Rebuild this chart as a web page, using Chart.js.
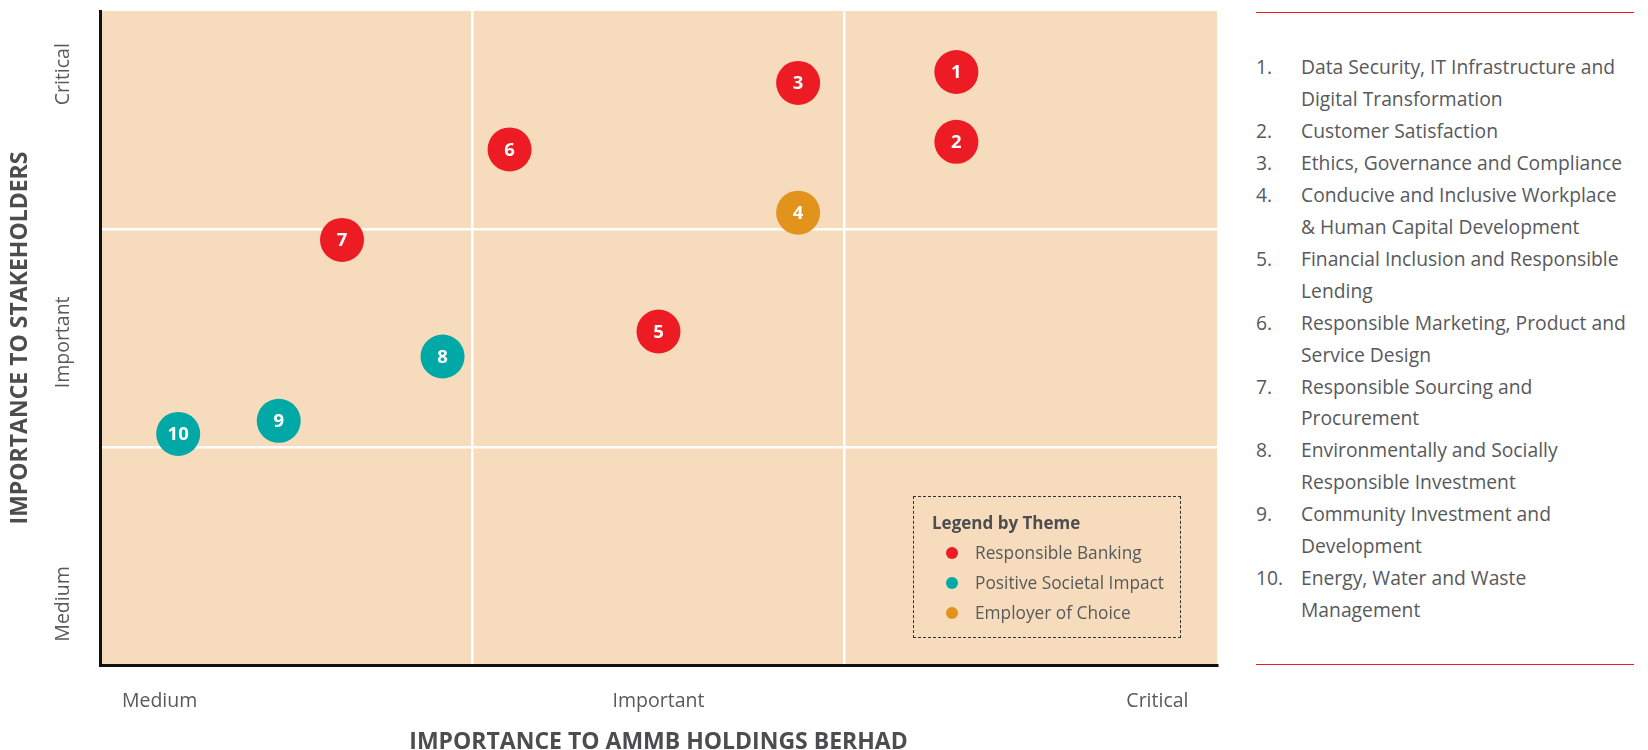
<!DOCTYPE html>
<html>
<head>
<meta charset="utf-8">
<script src="https://cdn.jsdelivr.net/npm/chart.js@4/dist/chart.umd.min.js"></script>
<style>
  body { margin: 0; background: #fff; font-family: 'Open Sans', sans-serif; }
  #wrap { position: relative; width: 1648px; height: 750px; overflow: hidden; }
  #chartBox { position: absolute; left: 0; top: 0; width: 1240px; height: 750px; }
  #legendBox {
    position: absolute; left: 913px; top: 496px; width: 268px; height: 142px;
    border: 1.5px dashed #333; box-sizing: border-box; padding: 11px 0 0 18px;
    color: #58595B; font-size: 17.3px;
  }
  #legendBox .ttl { font-weight: 700; font-size: 17px; line-height: 30px; color: #4D4D4F; }
  #legendBox .row { line-height: 30px; display: flex; align-items: center; }
  #legendBox .dot { width: 12px; height: 12px; border-radius: 50%; margin: 0 17px 0 14px; }
  #topics {
    position: absolute; left: 1256px; top: 12px; width: 378px; height: 653px;
    border-top: 1px solid #ED1C24; border-bottom: 1px solid #ED1C24; box-sizing: border-box;
    padding-top: 38px; color: #58595B; font-size: 19.3px; line-height: 31.95px;
  }
  #topics .item { display: flex; }
  #topics .num { width: 45px; flex: none; }
  #topics .txt { white-space: pre-line; }
</style>
</head>
<body>
<div id="wrap">
  <div id="chartBox"><canvas id="matrixChart"></canvas></div>
  <div id="legendBox"></div>
  <div id="topics"></div>
</div>
<script>
// material topics
const topicNos = [1, 2, 3, 4, 5, 6, 7, 8, 9, 10];
const topicNames = [
  'Data Security, IT Infrastructure and\nDigital Transformation',
  'Customer Satisfaction',
  'Ethics, Governance and Compliance',
  'Conducive and Inclusive Workplace\n& Human Capital Development',
  'Financial Inclusion and Responsible\nLending',
  'Responsible Marketing, Product and\nService Design',
  'Responsible Sourcing and\nProcurement',
  'Environmentally and Socially\nResponsible Investment',
  'Community Investment and\nDevelopment',
  'Energy, Water and Waste\nManagement'
];
// 0 = Responsible Banking, 1 = Positive Societal Impact, 2 = Employer of Choice
const topicTheme = [0, 0, 0, 2, 0, 0, 0, 1, 1, 1];
const importanceToCompany = [2.30, 2.30, 1.875, 1.875, 1.50, 1.10, 0.65, 0.92, 0.48, 0.21];
const importanceToStakeholders = [2.72, 2.40, 2.67, 2.075, 1.53, 2.365, 1.95, 1.415, 1.12, 1.06];

const themes = ['Responsible Banking', 'Positive Societal Impact', 'Employer of Choice'];
const themeColors = ['#ED1C24', '#00A8A6', '#E2931C'];

const levelLabels = ['Medium', 'Important', 'Critical'];
const xLabelAt = [0.16, 1.5, 2.84];
const yLabelAt = [0.28, 1.48, 2.71];
const dividers = [1, 2];

const FONT = "'Open Sans', sans-serif";

function tickList(labelAt) {
  return labelAt.concat(dividers).sort((a, b) => a - b).map(v => ({ value: v }));
}
function labelFor(v, labelAt) {
  const i = labelAt.indexOf(v);
  return i >= 0 ? levelLabels[i] : '';
}
function gridColor(c) {
  return c.tick && dividers.includes(c.tick.value) ? '#ffffff' : 'rgba(0,0,0,0)';
}

const plotFill = {
  id: 'plotFill',
  beforeDraw(chart) {
    const { ctx, chartArea: a } = chart;
    ctx.save();
    ctx.fillStyle = '#F6DCBC';
    ctx.fillRect(a.left, a.top, a.right - a.left, a.bottom - a.top);
    ctx.restore();
  }
};

const bubbleNumbers = {
  id: 'bubbleNumbers',
  afterDatasetsDraw(chart) {
    const ctx = chart.ctx;
    ctx.save();
    ctx.fillStyle = '#fff';
    ctx.font = 'bold 18.5px ' + FONT;
    ctx.textAlign = 'center';
    ctx.textBaseline = 'middle';
    chart.data.datasets.forEach((ds, d) => {
      chart.getDatasetMeta(d).data.forEach((pt, i) => {
        ctx.fillText(String(ds.data[i].n), pt.x, pt.y + 1);
      });
    });
    ctx.restore();
  }
};

const datasets = themes.map((name, t) => ({
  label: name,
  data: topicNos
    .map((n, i) => ({ x: importanceToCompany[i], y: importanceToStakeholders[i], n: n, t: topicTheme[i] }))
    .filter(p => p.t === t),
  backgroundColor: themeColors[t],
  borderWidth: 0,
  pointRadius: 22,
  pointHoverRadius: 22
}));

new Chart(document.getElementById('matrixChart'), {
  type: 'scatter',
  data: { datasets: datasets },
  options: {
    responsive: true,
    maintainAspectRatio: false,
    animation: false,
    events: [],
    layout: { autoPadding: false, padding: { top: 11, right: 23, left: 0, bottom: 0 } },
    plugins: { legend: { display: false }, tooltip: { enabled: false } },
    scales: {
      x: {
        type: 'linear', min: 0, max: 3,
        afterBuildTicks: s => { s.ticks = tickList(xLabelAt); },
        afterFit: s => { s.height = 85; s.paddingLeft = 0; s.paddingRight = 0; },
        ticks: {
          autoSkip: false, maxRotation: 0, padding: 25, color: '#58595B',
          font: { family: FONT, size: 19.5 },
          callback: v => labelFor(v, xLabelAt)
        },
        grid: { drawTicks: false, color: gridColor, lineWidth: 2.5 },
        border: { color: '#111', width: 3 },
        title: {
          display: true, text: 'IMPORTANCE TO AMMB HOLDINGS BERHAD', color: '#4D4D4F',
          font: { family: FONT, size: 23, weight: 'bold' }, padding: { top: 0, bottom: -6 }
        }
      },
      y: {
        type: 'linear', min: 0, max: 3,
        afterBuildTicks: s => { s.ticks = tickList(yLabelAt); },
        afterFit: s => { s.width = 100; s.paddingTop = 0; s.paddingBottom = 0; },
        ticks: {
          autoSkip: false, minRotation: 90, maxRotation: 90, crossAlign: 'center', padding: -9,
          color: '#58595B', font: { family: FONT, size: 19.5 },
          callback: v => labelFor(v, yLabelAt)
        },
        grid: { drawTicks: false, color: gridColor, lineWidth: 2.5 },
        border: { color: '#111', width: 3 },
        title: {
          display: true, text: 'IMPORTANCE TO STAKEHOLDERS', color: '#4D4D4F',
          font: { family: FONT, size: 23, weight: 'bold' }, padding: { top: 7, bottom: 0 }
        }
      }
    }
  },
  plugins: [plotFill, bubbleNumbers]
});

// legend by theme
const legendBox = document.getElementById('legendBox');
let html = '<div class="ttl">Legend by Theme</div>';
themes.forEach((name, t) => {
  html += '<div class="row"><span class="dot" style="background:' + themeColors[t] + '"></span>' + name + '</div>';
});
legendBox.innerHTML = html;

// numbered topic list
const topicsBox = document.getElementById('topics');
topicsBox.innerHTML = topicNos.map((n, i) =>
  '<div class="item"><span class="num">' + n + '.</span><span class="txt">' + topicNames[i] + '</span></div>'
).join('');
</script>
</body>
</html>
